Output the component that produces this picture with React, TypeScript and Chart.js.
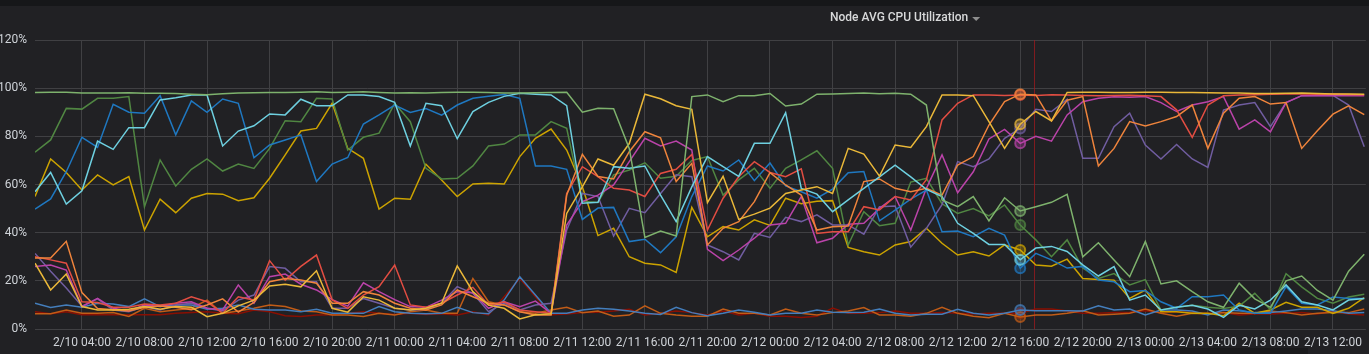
import React, { useEffect, useRef } from "react";
import { Chart, registerables } from "chart.js";
Chart.register(...registerables);

// hourly samples, index 0 = 2/10 01:00
const xTickLabels = [
  "2/10 04:00", "2/10 08:00", "2/10 12:00", "2/10 16:00", "2/10 20:00",
  "2/11 00:00", "2/11 04:00", "2/11 08:00", "2/11 12:00", "2/11 16:00", "2/11 20:00",
  "2/12 00:00", "2/12 04:00", "2/12 08:00", "2/12 12:00", "2/12 16:00", "2/12 20:00",
  "2/13 00:00", "2/13 04:00", "2/13 08:00", "2/13 12:00",
];
const FIRST_TICK_HOUR = 3;
const TICK_STEP_HOURS = 4;
const X_MAX_HOUR = 85.1;
const HOVER_INDEX = 63;
const MARKER_LINE_HOUR = 63.9;
const yTickValues = [0, 20, 40, 60, 80, 100, 120];

const lightGreen = [
  98.2, 98.3, 98.3, 98.0, 98.0, 98.0, 98.1, 97.9, 97.9, 97.8,
  97.5, 97.3, 97.7, 98.0, 98.1, 98.2, 98.2, 98.3, 98.5, 98.2,
  98.3, 98.5, 98.2, 98.0, 98.1, 98.0, 98.2, 98.3, 98.3, 98.2,
  98.0, 98.0, 98.1, 98.2, 98.3,
  90.0, 91.7, 91.5, 75.0, 38.0, 40.7, 38.6, 96.5, 97.2, 94.4,
  96.9, 96.9, 97.8, 92.6, 93.4, 97.5, 97.6, 97.8, 98.0, 97.7,
  97.9, 97.5, 93.0, 53.6, 50.8, 55.0, 44.9, 54.5, 49.0, 50.8,
  52.6, 55.9, 30.0, 35.8, 28.6, 21.7, 36.3, 18.7, 20.0, 15.5,
  11.3, 9.0, 19.0, 12.5, 9.0, 20.0, 22.0, 16.0, 12.0, 24.0, 31.0,
];
const yellow = [
  27.3, 16.2, 22.8, 9.3, 7.9, 7.9, 8.2, 9.3, 8.2, 9.3,
  9.0, 5.1, 6.5, 9.6, 12.0, 17.9, 18.6, 17.5, 24.2, 8.6,
  7.0, 13.4, 12.0, 8.6, 7.9, 8.6, 10.7, 26.2, 15.5, 9.9,
  8.6, 4.2, 5.9, 6.3,
  48.0, 59.0, 70.6, 68.0, 77.0, 97.5, 95.6, 92.7, 91.2, 52.5,
  63.4, 45.5, 47.7, 50.2, 56.3, 57.7, 59.1, 56.3, 75.0, 72.6,
  63.5, 76.4, 75.4, 84.0, 97.2, 97.2, 96.9, 86.1, 75.0, 85.0,
  90.3, 86.4, 98.2, 98.3, 98.3, 98.2, 98.2, 98.3, 98.3, 98.2,
  98.2, 98.1, 98.0, 98.0, 97.8, 97.8, 97.9, 98.0, 97.8, 97.6, 97.6, 97.5,
];
const cyan = [
  57.0, 65.0, 51.9, 57.4, 78.0, 74.6, 83.6, 83.6, 95.1, 96.0,
  97.2, 97.2, 76.0, 82.2, 84.4, 89.3, 88.9, 95.4, 92.7, 92.7,
  97.2, 97.2, 96.5, 94.1, 76.0, 93.7, 92.7, 79.0, 90.3, 94.1,
  96.6, 97.9, 97.5, 97.2, 92.7, 52.2, 52.6, 67.4, 66.7, 67.7,
  55.6, 44.6, 59.0, 71.6, 67.4, 63.4, 77.1, 77.1, 89.8, 58.4,
  56.0, 48.7, 53.6, 58.4, 63.2, 68.0, 63.2, 58.0, 55.0, 43.9,
  39.7, 35.1, 35.1, 28.7, 33.6, 34.3, 32.2, 26.6, 22.0, 25.9,
  12.0, 14.1, 7.9, 9.0, 9.9, 8.3, 4.8, 9.9, 8.3, 12.0,
  18.3, 11.3, 10.0, 7.9, 12.0, 12.7,
];
const orange = [
  29.5, 29.5, 36.4, 15.1, 8.5, 8.0, 7.5, 9.0, 9.5, 9.0,
  8.0, 10.0, 12.5, 7.0, 11.0, 19.6, 21.0, 20.3, 19.0, 10.7,
  10.7, 15.5, 14.1, 10.7, 8.6, 7.9, 10.0, 16.2, 13.4, 10.7,
  10.0, 7.2, 5.8, 5.8,
  55.6, 72.5, 63.3, 62.3, 73.6, 81.9, 79.4, 61.2, 68.8, 34.9,
  41.8, 44.6, 52.9, 64.9, 59.8, 55.6, 41.1, 42.5, 42.8, 61.2,
  62.3, 58.4, 57.0, 58.4, 55.6, 68.1, 71.6, 84.7, 94.4, 97.5,
  97.2, 86.4, 95.0, 96.5, 67.7, 75.0, 86.1, 84.3, 86.1, 88.2,
  93.0, 75.0, 89.6, 95.8, 96.5, 93.4, 94.0, 75.0, 82.3, 89.2, 92.7, 89.0,
];
const red = [
  30.0, 28.7, 27.3, 11.3, 11.0, 9.0, 9.0, 10.4, 10.0, 10.7,
  13.4, 11.3, 6.5, 13.4, 12.0, 28.4, 20.3, 26.0, 30.7, 12.1,
  8.6, 14.1, 17.6, 26.6, 10.0, 9.0, 10.7, 14.1, 17.3, 10.0,
  11.3, 7.9, 7.2, 6.5,
  56.3, 67.4, 63.3, 58.4, 57.7, 55.0, 64.6, 66.3, 72.5, 41.1,
  54.3, 63.2, 69.5, 65.0, 63.2, 66.5, 39.7, 40.4, 40.4, 50.8,
  49.4, 55.0, 53.6, 62.0, 86.8, 93.7, 97.2, 97.2, 97.0, 97.2,
  97.0, 97.3, 97.2, 97.0, 96.8, 97.0, 97.1, 96.8, 96.5, 91.0,
  79.6, 93.0, 96.9, 97.2, 97.3, 97.5, 97.6, 97.6, 97.5, 97.6, 97.4, 97.3,
];
const blue = [
  49.8, 54.0, 65.3, 79.6, 75.4, 93.3, 90.0, 89.6, 96.9, 80.6,
  94.7, 90.0, 95.5, 93.7, 71.1, 76.4, 78.5, 80.6, 61.2, 68.5,
  71.2, 85.1, 88.9, 93.0, 89.9, 91.5, 88.8, 93.0, 95.8, 96.6,
  97.4, 95.8, 67.7, 67.7, 66.3, 45.5, 50.2, 50.5, 36.3, 37.3,
  31.7, 38.3, 55.0, 67.7, 65.6, 70.2, 61.6, 68.9, 59.4, 57.0,
  54.3, 58.1, 64.9, 65.4, 44.9, 49.4, 53.9, 57.7, 40.4, 40.7,
  38.3, 41.8, 39.0, 25.2, 31.4, 28.7, 25.3, 26.0, 20.3, 19.6,
  15.5, 16.0, 11.3, 8.6, 13.4, 13.4, 14.1, 7.9, 6.5, 6.5,
  17.6, 10.7, 10.0, 13.3, 12.7, 12.7,
];
const magenta = [
  25.9, 26.6, 24.5, 9.3, 12.7, 8.6, 7.5, 10.0, 9.3, 10.7,
  11.3, 8.6, 7.9, 18.3, 10.7, 21.7, 22.8, 18.6, 16.2, 12.2,
  9.5, 19.2, 15.5, 12.2, 9.3, 9.0, 12.0, 15.5, 15.0, 8.6,
  11.3, 9.3, 11.6, 6.5,
  43.2, 52.9, 55.6, 59.8, 69.5, 79.2, 76.0, 78.0, 74.3, 33.1,
  28.4, 32.8, 37.7, 43.2, 43.9, 55.0, 35.8, 37.7, 43.5, 43.9,
  50.1, 55.0, 41.1, 58.4, 72.3, 56.6, 65.3, 78.9, 82.9, 77.1,
  80.0, 78.0, 88.9, 94.4, 95.8, 96.4, 96.2, 96.5, 94.0, 90.3,
  93.0, 94.4, 96.5, 83.0, 86.8, 81.9, 94.0, 96.9, 96.9, 96.9, 96.9, 96.9,
];
const purple = [
  31.4, 24.0, 17.0, 9.5, 12.5, 7.9, 7.2, 9.3, 7.9, 10.0,
  10.7, 8.6, 7.5, 12.0, 14.1, 25.9, 25.2, 19.6, 19.6, 8.6,
  8.6, 12.7, 10.7, 8.6, 7.9, 8.2, 10.7, 17.6, 14.8, 7.2,
  10.7, 7.9, 10.0, 10.7,
  41.1, 56.3, 55.0, 38.6, 50.1, 48.3, 56.3, 64.0, 63.2, 34.9,
  32.1, 28.7, 39.7, 38.0, 46.4, 44.6, 47.4, 43.2, 43.2, 39.4,
  50.8, 51.1, 34.0, 41.8, 51.6, 69.5, 67.4, 70.6, 79.2, 83.3,
  91.2, 90.3, 95.4, 70.9, 70.9, 84.0, 89.6, 76.4, 70.6, 76.6,
  70.6, 67.1, 90.9, 93.0, 94.0, 84.0, 94.0, 96.9, 97.0, 97.0, 93.0, 75.7,
];
const darkGreen = [
  73.4, 78.5, 91.6, 91.3, 95.8, 95.8, 96.5, 50.8, 70.2, 59.4,
  66.3, 70.6, 65.6, 68.5, 66.7, 75.0, 86.5, 86.1, 95.8, 95.5,
  74.3, 79.6, 81.3, 93.7, 86.1, 66.7, 62.3, 62.6, 67.7, 76.0,
  76.8, 80.6, 80.6, 86.1, 83.3, 53.0, 52.5, 64.0, 66.0, 69.0,
  62.6, 63.4, 70.0, 71.6, 55.6, 61.9, 66.7, 58.4, 66.7, 70.2,
  74.0, 66.7, 34.9, 48.7, 42.9, 43.9, 61.0, 62.6, 52.0, 48.0,
  50.0, 47.0, 51.5, 43.2, 37.0, 30.0, 37.0, 25.3, 21.0, 23.0,
  18.3, 20.5, 7.9, 9.0, 9.9, 9.0, 8.5, 9.5, 14.8, 8.0,
  23.0, 17.5, 12.7, 10.7, 13.3, 14.4,
];
const darkYellow = [
  55.0, 70.6, 65.0, 57.7, 64.0, 59.8, 63.3, 41.1, 53.9, 48.3,
  54.3, 56.3, 56.0, 53.3, 54.5, 62.6, 72.3, 82.2, 83.3, 93.7,
  75.0, 70.9, 49.8, 54.3, 53.9, 68.4, 61.9, 55.0, 60.2, 60.5,
  60.2, 71.6, 79.2, 83.0, 74.3, 59.1, 38.8, 41.8, 30.0, 27.3,
  26.6, 23.5, 50.5, 38.3, 42.5, 41.1, 45.3, 43.0, 54.3, 52.0,
  53.0, 53.3, 33.9, 32.1, 30.7, 34.9, 36.3, 41.8, 35.6, 30.7,
  32.1, 30.3, 34.9, 32.8, 26.6, 26.1, 29.0, 21.0, 20.6, 20.3,
  12.7, 16.2, 7.2, 7.2, 6.5, 6.5, 5.5, 10.7, 6.5, 7.9,
  11.1, 9.0, 9.0, 6.5, 8.6, 13.0,
];
const blue2 = [
  10.7, 8.9, 10.0, 9.0, 10.7, 10.4, 9.3, 12.5, 9.3, 10.0,
  10.0, 8.2, 8.6, 10.0, 8.2, 7.9, 7.9, 7.2, 8.2, 6.5,
  6.5, 6.5, 9.3, 7.2, 6.5, 6.3, 6.5, 9.0, 6.8, 6.3,
  12.0, 21.7, 14.1, 6.5, 6.5, 7.9, 8.6, 8.2, 7.5, 6.5,
  6.0, 9.0, 6.8, 5.5, 6.5, 7.9, 7.0, 5.8, 6.5, 6.5,
  7.9, 7.0, 6.8, 7.0, 8.3, 6.5, 5.8, 6.1, 6.1, 8.2,
  6.5, 5.8, 6.5, 7.9, 7.6, 7.6, 7.6, 7.5, 9.6, 7.9,
  8.3, 5.8, 7.9, 7.9, 7.5, 5.8, 7.9, 7.6, 6.8, 6.8,
  7.5, 8.3, 8.3, 7.6, 6.5, 6.8,
];
const darkOrange = [
  6.3, 6.3, 7.9, 6.5, 6.5, 6.8, 5.2, 8.6, 7.2, 7.9,
  8.6, 12.0, 6.5, 7.5, 8.6, 10.0, 9.3, 7.5, 7.2, 5.8,
  5.8, 5.2, 6.5, 5.8, 7.2, 7.9, 6.5, 6.5, 21.0, 11.3,
  10.0, 7.2, 6.5, 7.9, 9.0, 6.8, 7.5, 5.3, 5.8, 9.6,
  6.5, 5.8, 5.3, 5.3, 8.3, 6.5, 6.5, 5.8, 8.3, 6.5,
  5.8, 6.8, 7.5, 8.9, 5.8, 5.8, 5.3, 6.5, 9.0, 6.5,
  5.3, 4.7, 6.5, 5.0, 5.8, 5.8, 6.5, 7.6, 5.8, 6.1,
  6.5, 8.3, 6.5, 5.3, 6.5, 6.2, 6.8, 6.5, 6.5, 7.5,
  6.8, 5.8, 6.5, 6.8, 6.8, 8.3,
];
const darkRed = [
  7.2, 6.3, 7.2, 5.9, 5.9, 5.9, 5.9, 5.9, 5.9, 6.5,
  6.8, 7.2, 6.5, 6.3, 7.9, 7.2, 5.5, 5.2, 5.8, 5.9,
  6.5, 7.2, 6.5, 6.0, 6.5, 6.0, 6.3, 5.8, 7.2, 5.8,
  13.4, 21.0, 13.4, 5.9, 6.2, 6.8, 7.0, 7.5, 8.2, 5.8,
  6.5, 7.5, 6.8, 5.8, 7.5, 5.8, 6.5, 5.3, 5.3, 4.8,
  5.3, 8.7, 6.5, 6.5, 6.8, 7.5, 6.5, 6.5, 6.8, 6.5,
  6.2, 6.5, 6.5, 6.5, 8.3, 8.3, 7.5, 6.5, 6.5, 6.8,
  7.0, 7.6, 6.8, 7.2, 6.8, 6.5, 6.8, 5.8, 6.2, 6.2,
  6.5, 6.8, 6.2, 7.5, 6.2, 5.8,
];

const seriesList: { values: number[]; color: string }[] = [
  { values: lightGreen, color: "#7EB26D" },
  { values: yellow, color: "#EAB839" },
  { values: cyan, color: "#6ED0E0" },
  { values: orange, color: "#EF843C" },
  { values: red, color: "#E24D42" },
  { values: blue, color: "#1F78C1" },
  { values: magenta, color: "#BA43A9" },
  { values: purple, color: "#705DA0" },
  { values: darkGreen, color: "#508642" },
  { values: darkYellow, color: "#CCA300" },
  { values: blue2, color: "#447EBC" },
  { values: darkOrange, color: "#C15C17" },
  { values: darkRed, color: "#890F02" },
];

const W = 1369;
const H = 354;

export default function App() {
  const ref = useRef<HTMLCanvasElement | null>(null);
  useEffect(() => {
    document.body.style.margin = "0";
    document.body.style.background = "#212124";
    const canvas = ref.current;
    if (!canvas) return;

    const decor = {
      id: "decor",
      beforeDraw(chart: any) {
        const c = chart.ctx;
        c.save();
        c.fillStyle = "#212124";
        c.fillRect(0, 0, W, H);
        c.fillStyle = "#161719";
        c.fillRect(0, 0, W, 6);
        c.restore();
      },
      beforeDatasetsDraw(chart: any) {
        const c = chart.ctx;
        const xs = chart.scales.x;
        const a = chart.chartArea;
        const px = Math.round(xs.getPixelForValue(MARKER_LINE_HOUR)) + 0.5;
        c.save();
        c.strokeStyle = "rgba(160, 25, 30, 0.75)";
        c.lineWidth = 1;
        c.beginPath();
        c.moveTo(px, a.top);
        c.lineTo(px, a.bottom);
        c.stroke();
        c.restore();
      },
      afterDraw(chart: any) {
        const c = chart.ctx;
        c.save();
        c.font = "500 12px Roboto";
        c.fillStyle = "#d8d9da";
        c.textBaseline = "middle";
        c.textAlign = "left";
        const title = "Node AVG CPU Utilization";
        const tx = 830;
        c.fillText(title, tx, 18);
        const tw = c.measureText(title).width;
        c.fillStyle = "#8e8e8e";
        c.beginPath();
        const cx = tx + tw + 8;
        c.moveTo(cx - 4, 17);
        c.lineTo(cx + 4, 17);
        c.lineTo(cx, 21);
        c.closePath();
        c.fill();
        c.fillStyle = "#1a1a1c";
        c.fillRect(1040, 348, 268, 6);
        c.restore();
      },
    };

    const datasets = seriesList.map((s) => ({
      data: s.values.map((v, i) => ({ x: i, y: v })),
      borderColor: s.color,
      backgroundColor: s.color,
      borderWidth: 1.5,
      tension: 0,
      fill: false,
      pointRadius: (ctx: any) => (ctx.dataIndex === HOVER_INDEX ? 5 : 0),
      pointHoverRadius: 0,
      pointBackgroundColor: s.color + "55",
      pointBorderColor: s.color + "bb",
      pointBorderWidth: 2,
    }));

    const chart = new Chart(canvas, {
      type: "line",
      data: { datasets },
      plugins: [decor],
      options: {
        animation: false,
        responsive: false,
        events: [],
        layout: { padding: { top: 40, left: 0, right: 0, bottom: 0 } },
        plugins: { legend: { display: false }, tooltip: { enabled: false }, title: { display: false } },
        scales: {
          x: {
            type: "linear",
            min: 0,
            max: X_MAX_HOUR,
            afterBuildTicks: (scale: any) => {
              scale.ticks = xTickLabels.map((_, k) => ({ value: FIRST_TICK_HOUR + k * TICK_STEP_HOURS }));
            },
            afterFit: (scale: any) => {
              scale.height = 25;
            },
            ticks: {
              autoSkip: false,
              maxRotation: 0,
              minRotation: 0,
              padding: 7,
              color: "#cfd3d8",
              font: { family: "Roboto", size: 12 },
              callback: (_v: any, index: number) => xTickLabels[index],
            },
            grid: { color: "#404043", lineWidth: 1, drawTicks: false },
            border: { display: false },
          },
          y: {
            min: 0,
            max: 120,
            afterBuildTicks: (scale: any) => {
              scale.ticks = yTickValues.map((v) => ({ value: v }));
            },
            afterFit: (scale: any) => {
              scale.width = 35;
            },
            ticks: {
              padding: 8,
              color: "#cfd3d8",
              font: { family: "Roboto", size: 12 },
              callback: (v: any) => v + "%",
            },
            grid: { color: "#404043", lineWidth: 1, drawTicks: false },
            border: { display: false },
          },
        },
      },
    });
    return () => chart.destroy();
  }, []);

  return (
    <div style={{ width: W, height: H, background: "#212124" }}>
      <canvas ref={ref} width={W} height={H} style={{ display: "block" }} />
    </div>
  );
}
